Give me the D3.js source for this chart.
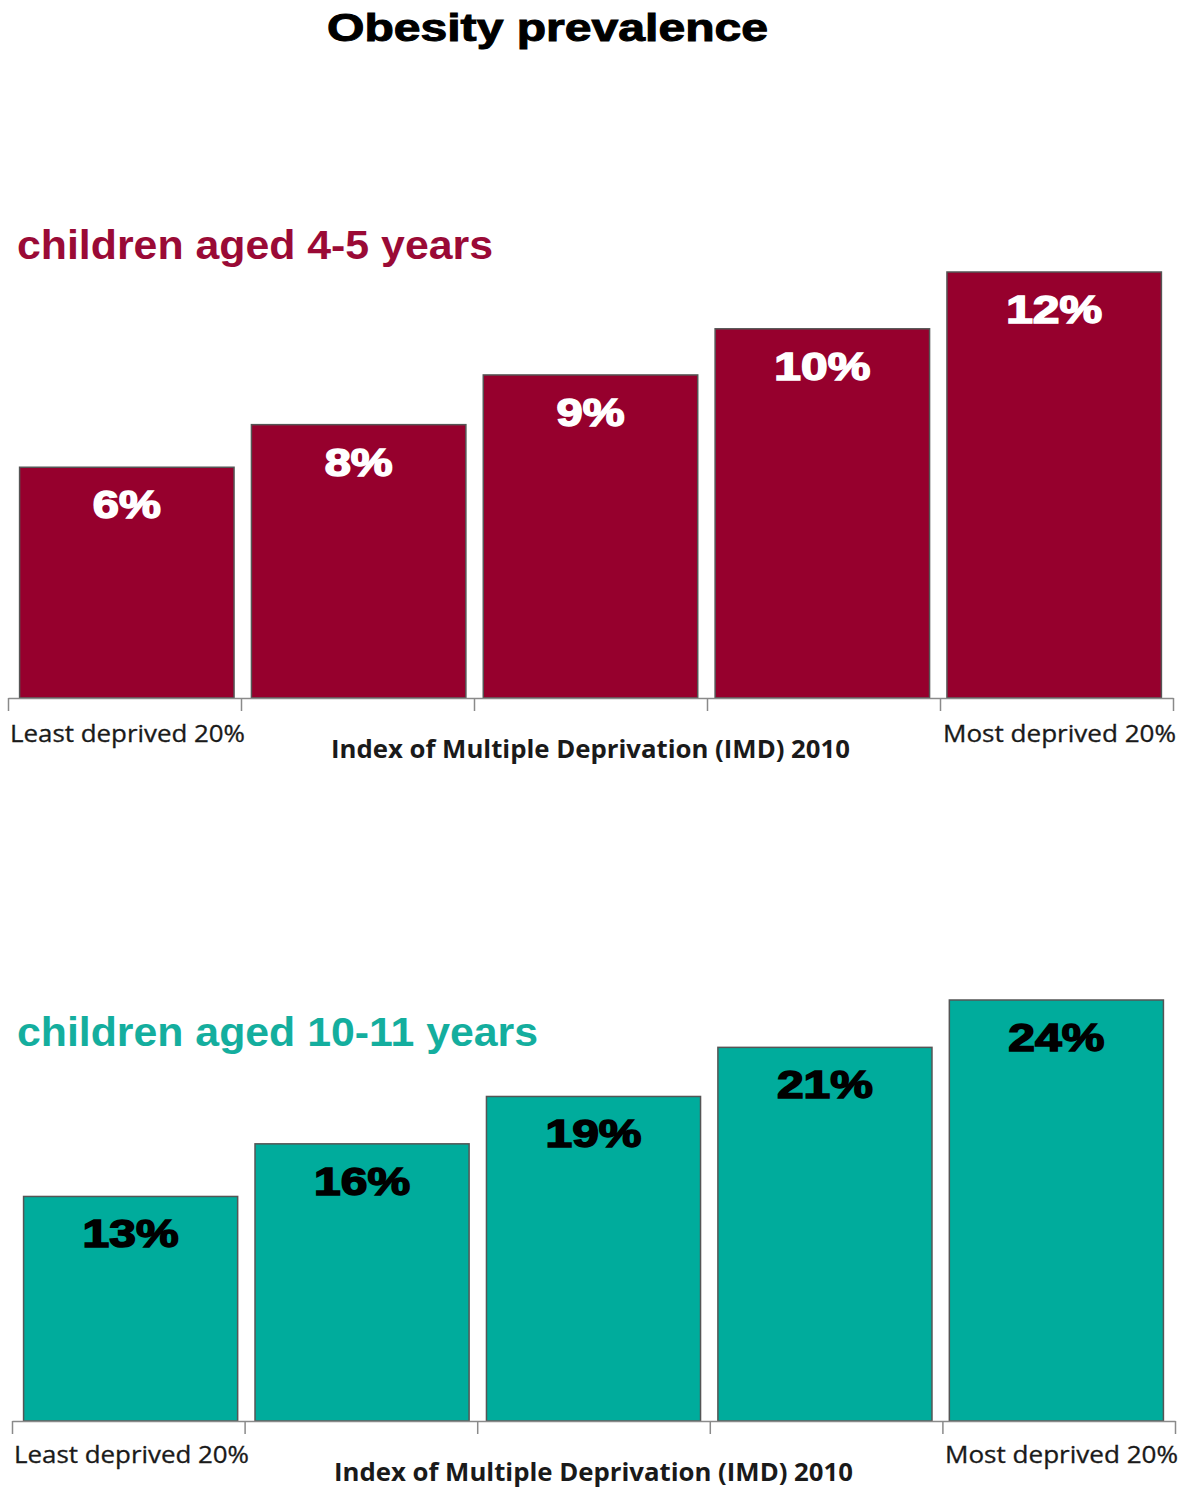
<!DOCTYPE html>
<html>
<head>
<meta charset="utf-8">
<script src="https://cdn.jsdelivr.net/npm/d3@7"></script>
<style>
  body { margin: 0; background: #fff; }
  svg { display: block; }
</style>
</head>
<body>
<div id="chart"></div>
<script>
var quintiles = ['Q1', 'Q2', 'Q3', 'Q4', 'Q5']
var endLabels = ['Least deprived 20%', 'Most deprived 20%']
var axisTitle = 'Index of Multiple Deprivation (IMD) 2010'

var reception = [6.5, 7.7, 9.1, 10.4, 12.0]
var receptionLabels = ['6%', '8%', '9%', '10%', '12%']

var year6 = [12.8, 15.8, 18.5, 21.3, 24.0]
var year6Labels = ['13%', '16%', '19%', '21%', '24%']

var width = 1184, height = 1490

var svg = d3.select('#chart').append('svg')
	.attr('width', width)
	.attr('height', height)

svg.append('text')
	.attr('x', 327)
	.attr('y', 41)
	.attr('textLength', 441)
	.attr('lengthAdjust', 'spacingAndGlyphs')
	.style('font-family', 'Liberation Sans, Arial, sans-serif')
	.style('font-weight', 'bold')
	.style('font-size', '38px')
	.style('fill', '#000')
	.style('stroke', '#000')
	.style('stroke-width', 1)
	.text('Obesity prevalence')

var panels = [
	{
		title: 'children aged 4-5 years', titleY: 259, titleLen: 476,
		titleColor: '#9a0a36', fill: '#96002d', labelColor: '#fff',
		values: reception, labels: receptionLabels, max: 12,
		left: 8, right: 1173, top: 272, base: 698,
		tickLabelY: 742, axisTitleY: 758
	},
	{
		title: 'children aged 10-11 years', titleY: 1046, titleLen: 521,
		titleColor: '#14ae9e', fill: '#00ac9c', labelColor: '#000',
		values: year6, labels: year6Labels, max: 24,
		left: 12, right: 1175, top: 1000, base: 1421,
		tickLabelY: 1463, axisTitleY: 1481
	}
]

panels.forEach(function(p) {
	var g = svg.append('g')

	var x = d3.scaleBand()
		.domain(quintiles)
		.range([p.left, p.right])
		.paddingInner(0.075)
		.paddingOuter(0.05)

	var xEdge = d3.scaleLinear()
		.domain([0, quintiles.length])
		.range([p.left, p.right])

	var y = d3.scaleLinear()
		.domain([0, p.max])
		.range([p.base, p.top])

	g.append('text')
		.attr('x', 17)
		.attr('y', p.titleY)
		.attr('textLength', p.titleLen)
		.attr('lengthAdjust', 'spacingAndGlyphs')
		.style('font-family', 'Liberation Sans, Arial, sans-serif')
		.style('font-weight', 'bold')
		.style('font-size', '40px')
		.style('fill', p.titleColor)
		.text(p.title)

	g.selectAll('rect.bar')
		.data(p.values)
		.enter().append('rect')
		.attr('class', 'bar')
		.attr('x', function(d, i) { return x(quintiles[i]) })
		.attr('y', function(d) { return y(d) })
		.attr('width', x.bandwidth())
		.attr('height', function(d) { return y(0) - y(d) })
		.attr('fill', p.fill)
		.attr('stroke', '#555')
		.attr('stroke-width', 1.5)

	// labels are drawn wide, like a black-weight face
	g.selectAll('text.val')
		.data(p.values)
		.enter().append('text')
		.attr('class', 'val')
		.attr('x', function(d, i) { return x(quintiles[i]) + x.bandwidth() / 2 })
		.attr('y', function(d) { return y(d) + 51 })
		.attr('text-anchor', 'middle')
		.attr('textLength', function(d, i) { return p.labels[i].length * 28 + 12 })
		.attr('lengthAdjust', 'spacingAndGlyphs')
		.style('font-family', 'Liberation Sans, Arial, sans-serif')
		.style('font-weight', 'bold')
		.style('font-size', '39px')
		.style('fill', p.labelColor)
		.style('stroke', p.labelColor)
		.style('stroke-width', 1.6)
		.text(function(d, i) { return p.labels[i] })

	var axis = d3.axisBottom(xEdge)
		.tickValues(d3.range(quintiles.length + 1))
		.tickFormat('')
		.tickSizeInner(13)
		.tickSizeOuter(0)

	var ax = g.append('g')
		.attr('transform', 'translate(0,' + p.base + ')')
		.call(axis)
	ax.select('.domain').attr('stroke', '#8a8a8a').attr('stroke-width', 1.5)
	ax.selectAll('.tick line').attr('stroke', '#8a8a8a').attr('stroke-width', 1.5)

	g.append('text')
		.attr('x', p.left + 2)
		.attr('y', p.tickLabelY)
		.attr('textLength', 235)
		.attr('lengthAdjust', 'spacingAndGlyphs')
		.style('font-family', 'Open Sans, sans-serif')
		.style('font-size', '23px')
		.style('fill', '#1a1a1a')
		.style('stroke', '#1a1a1a')
		.style('stroke-width', 0.3)
		.text(endLabels[0])

	g.append('text')
		.attr('x', p.right + 3)
		.attr('y', p.tickLabelY)
		.attr('text-anchor', 'end')
		.attr('textLength', 233)
		.attr('lengthAdjust', 'spacingAndGlyphs')
		.style('font-family', 'Open Sans, sans-serif')
		.style('font-size', '23px')
		.style('fill', '#1a1a1a')
		.style('stroke', '#1a1a1a')
		.style('stroke-width', 0.3)
		.text(endLabels[1])

	g.append('text')
		.attr('x', (p.left + p.right) / 2)
		.attr('y', p.axisTitleY)
		.attr('text-anchor', 'middle')
		.attr('textLength', 519)
		.attr('lengthAdjust', 'spacingAndGlyphs')
		.style('font-family', 'Open Sans, sans-serif')
		.style('font-weight', 'bold')
		.style('font-size', '25px')
		.style('fill', '#1a1a1a')
		.text(axisTitle)
})
</script>
</body>
</html>
